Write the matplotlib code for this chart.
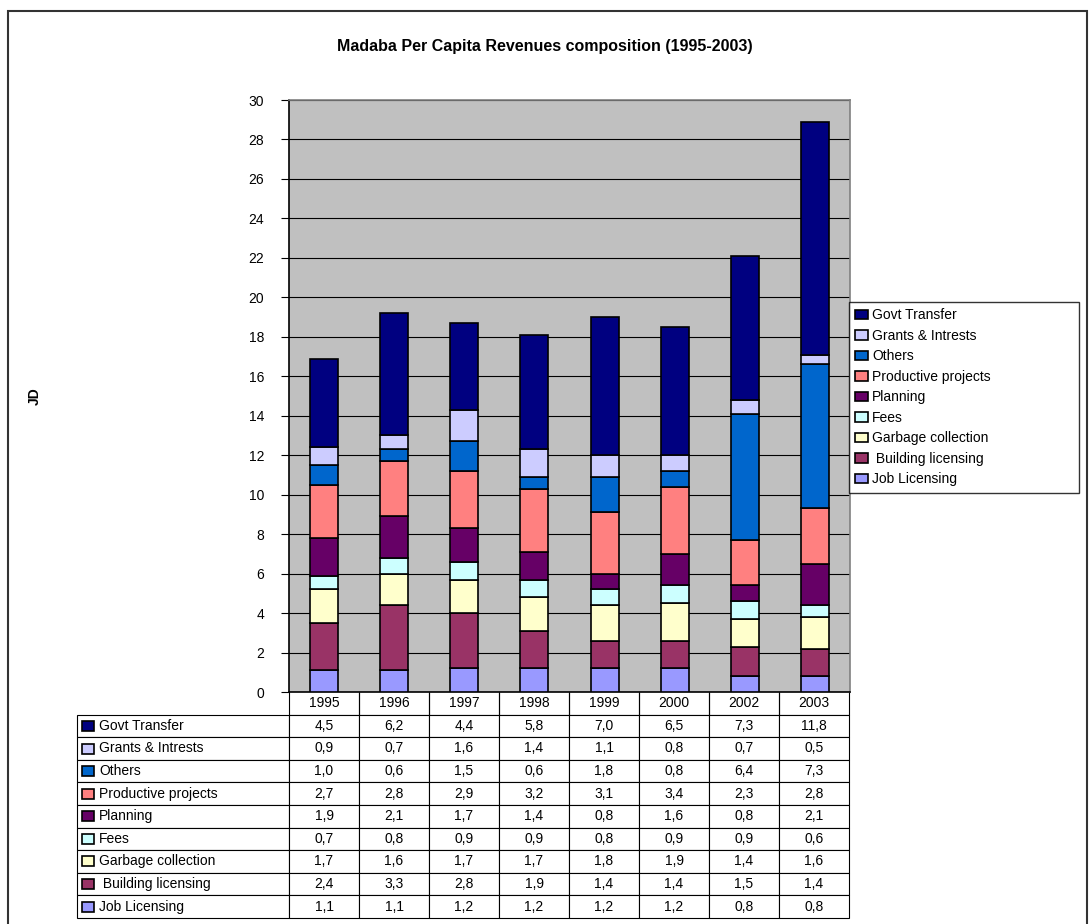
import matplotlib.pyplot as plt
from matplotlib.patches import Rectangle
import numpy as np

plt.rcParams['font.family'] = ['Liberation Sans', 'DejaVu Sans']

years = ["1995", "1996", "1997", "1998", "1999", "2000", "2002", "2003"]

# stacked from the bottom up
job_licensing = [1.1, 1.1, 1.2, 1.2, 1.2, 1.2, 0.8, 0.8]
building_licensing = [2.4, 3.3, 2.8, 1.9, 1.4, 1.4, 1.5, 1.4]
garbage = [1.7, 1.6, 1.7, 1.7, 1.8, 1.9, 1.4, 1.6]
fees = [0.7, 0.8, 0.9, 0.9, 0.8, 0.9, 0.9, 0.6]
planning = [1.9, 2.1, 1.7, 1.4, 0.8, 1.6, 0.8, 2.1]
productive = [2.7, 2.8, 2.9, 3.2, 3.1, 3.4, 2.3, 2.8]
others = [1.0, 0.6, 1.5, 0.6, 1.8, 0.8, 6.4, 7.3]
grants = [0.9, 0.7, 1.6, 1.4, 1.1, 0.8, 0.7, 0.5]
govt = [4.5, 6.2, 4.4, 5.8, 7.0, 6.5, 7.3, 11.8]

series = [
    ("Job Licensing", job_licensing, "#9999FF"),
    (" Building licensing", building_licensing, "#993366"),
    ("Garbage collection", garbage, "#FFFFCC"),
    ("Fees", fees, "#CCFFFF"),
    ("Planning", planning, "#660066"),
    ("Productive projects", productive, "#FF8080"),
    ("Others", others, "#0066CC"),
    ("Grants & Intrests", grants, "#CCCCFF"),
    ("Govt Transfer", govt, "#000080"),
]

W, H = 1091, 924
fig = plt.figure(figsize=(W / 100, H / 100), dpi=100)
ax = fig.add_axes([289 / W, 1 - 692 / H, 561 / W, 592 / H])
ax.set_facecolor("#C0C0C0")

x = np.arange(len(years))
bottom = np.zeros(len(years))
handles = []
for name, vals, col in series:
    b = ax.bar(x, vals, 0.4, bottom=bottom, color=col, edgecolor="black",
               linewidth=1.2, label=name, zorder=3)
    handles.append(b)
    bottom += np.array(vals)

ax.set_xlim(-0.5, len(years) - 0.5)
ax.set_ylim(0, 30)
ax.set_yticks(range(0, 31, 2))
ax.tick_params(axis='y', labelsize=10, length=6, direction='out', pad=12)
ax.set_xticks([])
ax.grid(axis='y', color='black', linewidth=0.8, zorder=1)
for s in ax.spines.values():
    s.set_color("#808080")
    s.set_linewidth(1.2)
ax.spines['left'].set_color('black')
ax.spines['bottom'].set_color('black')

ax.set_ylabel("JD", fontsize=10, fontweight='bold')
ax.yaxis.set_label_coords((42 - 289) / 561, 0.5)

fig.text(545 / W, 1 - 47 / H, "Madaba Per Capita Revenues composition (1995-2003)",
         ha='center', va='center', fontsize=11.5, fontweight='bold')

# legend
leg = fig.legend(handles[::-1], [s[0] for s in series][::-1],
                 loc='upper left', mode='expand', borderaxespad=0,
                 bbox_to_anchor=(849 / W, 1 - 492 / H, 230 / W, 190 / H),
                 fontsize=10, frameon=True, fancybox=False, edgecolor='black',
                 handlelength=0.9, handleheight=0.7, handletextpad=0.3,
                 labelspacing=0.47, borderpad=0.45)
leg.get_frame().set_linewidth(1.0)

# data table
rows = series[::-1]
cell_text = [[name] + [f"{v:.1f}".replace(".", ",") for v in vals] for name, vals, col in rows]
col_labels = [""] + years
label_w = 212 / 561
data_w = 70 / 561
tab = ax.table(cellText=cell_text, colLabels=col_labels, cellLoc='center',
               colWidths=[label_w] + [data_w] * len(years),
               bbox=[-label_w, -226 / 592, label_w + data_w * len(years), 226 / 592])
tab.auto_set_font_size(False)
tab.set_fontsize(10)
for (r, c), cell in tab.get_celld().items():
    cell.set_linewidth(0.8)
    if r == 0 and c == 0:
        cell.visible_edges = ''
    elif r == 0:
        cell.visible_edges = 'BLR'
    if c == 0 and r > 0:
        cell.get_text().set_horizontalalignment('left')
        cell.PAD = 22 / 212

# colored squares in the table row labels
row_h = 226 / 592 / 10
for i, (name, vals, col) in enumerate(rows):
    yc = -226 / 592 + (len(rows) - i - 0.5) * row_h
    sq = Rectangle((-label_w + 5 / 561, yc - 5 / 592), 12 / 561, 10 / 592,
                   transform=ax.transAxes, facecolor=col, edgecolor='black',
                   linewidth=1.2, clip_on=False, zorder=5)
    ax.add_patch(sq)

# outer chart frame
fig.add_artist(Rectangle((8 / W, -0.02), 1079 / W, 1 - 11 / H + 0.02,
                         transform=fig.transFigure, fill=False,
                         edgecolor='#333333', linewidth=1.5))

fig.savefig("out.png", dpi=100)
